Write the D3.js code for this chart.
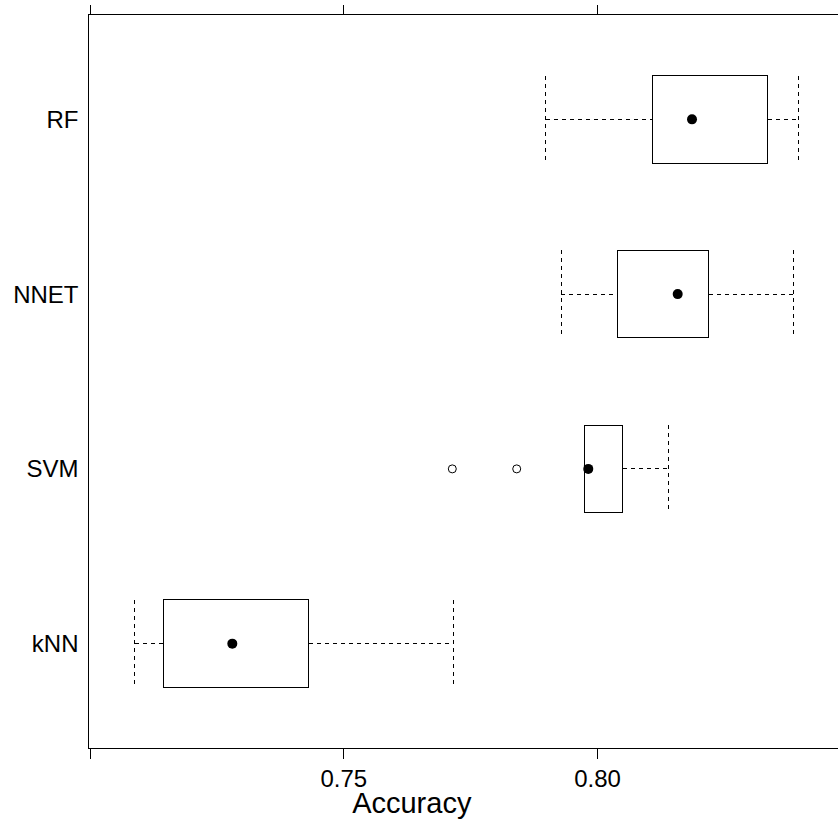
<!DOCTYPE html>
<html>
<head>
<meta charset="utf-8">
<script src="https://cdn.jsdelivr.net/npm/d3@7"></script>
<style>
  body { margin: 0; background: #fff; }
  text { font-family: "Liberation Sans", Arial, Helvetica, sans-serif; fill: #000; }
  line, rect, path { shape-rendering: crispEdges; }
</style>
</head>
<body>
<div id="chart"></div>
<script>
var w = 838,
    h = 823;

// data
var models   = ["RF", "NNET", "SVM", "kNN"];
var whiskLo  = [0.78995, 0.79297, 0.79744, 0.70891];
var boxLo    = [0.81103, 0.80406, 0.79744, 0.71454];
var medians  = [0.81872, 0.81590, 0.79828, 0.72814];
var boxHi    = [0.83369, 0.82201, 0.80506, 0.74319];
var whiskHi  = [0.83961, 0.83878, 0.81413, 0.77182];
var outliers = [[], [], [0.77149, 0.78418], []];
var xTicks   = [0.70, 0.75, 0.80, 0.85];
var xTickLabels = ["", "0.75", "0.80", ""];

var panelLeft = 88.5, panelTop = 14.5, panelBottom = 748.5;

var svg = d3.select("#chart")
            .append("svg")
            .attr("width", w)
            .attr("height", h);

var x = d3.scaleLinear()
          .domain([0.70, 0.80])
          .range([89.5, 597]);

var y = d3.scalePoint()
          .domain(models)
          .range([panelTop, panelBottom])
          .padding(0.6);

var half = y.step() * 0.25;

// panel (right side runs off the picture)
svg.append("path")
   .attr("d", "M" + (w + 5) + "," + panelTop + "H" + panelLeft + "V" + panelBottom + "H" + (w + 5))
   .attr("fill", "none")
   .attr("stroke", "#000")
   .attr("stroke-width", 1);

// ticks top and bottom
var axB = svg.append("g")
   .attr("transform", "translate(0," + panelBottom + ")")
   .call(d3.axisBottom(x).tickValues(xTicks)
           .tickFormat(function(d, i) { return xTickLabels[i]; })
           .tickSize(10).tickPadding(11));
axB.select(".domain").remove();
axB.selectAll("text").attr("font-size", "24px")
   .attr("font-family", "Liberation Sans, Arial, sans-serif");

var axT = svg.append("g")
   .attr("transform", "translate(0," + panelTop + ")")
   .call(d3.axisTop(x).tickValues(xTicks).tickFormat("").tickSize(10));
axT.select(".domain").remove();

svg.append("text")
   .attr("x", x(0.7635))
   .attr("y", 813)
   .attr("text-anchor", "middle")
   .attr("font-size", "29px")
   .text("Accuracy");

// category labels
svg.selectAll("text.cat")
   .data(models)
   .enter().append("text")
   .attr("class", "cat")
   .attr("x", 78.5)
   .attr("y", function(d) { return y(d); })
   .attr("dy", "0.35em")
   .attr("text-anchor", "end")
   .attr("font-size", "24px")
   .text(function(d) { return d; });

var g = svg.selectAll("g.bw")
           .data(models)
           .enter().append("g")
           .attr("class", "bw");

// whisker lines
g.append("line")
 .attr("x1", function(d, i) { return x(whiskLo[i]); })
 .attr("x2", function(d, i) { return x(boxLo[i]); })
 .attr("y1", function(d) { return y(d); })
 .attr("y2", function(d) { return y(d); });
g.append("line")
 .attr("x1", function(d, i) { return x(boxHi[i]); })
 .attr("x2", function(d, i) { return x(whiskHi[i]); })
 .attr("y1", function(d) { return y(d); })
 .attr("y2", function(d) { return y(d); });
// whisker caps
g.append("line")
 .attr("x1", function(d, i) { return x(whiskLo[i]); })
 .attr("x2", function(d, i) { return x(whiskLo[i]); })
 .attr("y1", function(d) { return y(d) - half; })
 .attr("y2", function(d) { return y(d) + half; });
g.append("line")
 .attr("x1", function(d, i) { return x(whiskHi[i]); })
 .attr("x2", function(d, i) { return x(whiskHi[i]); })
 .attr("y1", function(d) { return y(d) - half; })
 .attr("y2", function(d) { return y(d) + half; });
g.selectAll("line")
 .attr("stroke", "#000")
 .attr("stroke-width", 1)
 .attr("stroke-dasharray", "4,4");

// boxes
g.append("rect")
 .attr("x", function(d, i) { return x(boxLo[i]); })
 .attr("y", function(d) { return y(d) - half; })
 .attr("width", function(d, i) { return x(boxHi[i]) - x(boxLo[i]); })
 .attr("height", half * 2)
 .attr("fill", "none")
 .attr("stroke", "#000")
 .attr("stroke-width", 1);

// medians
g.append("circle")
 .attr("cx", function(d, i) { return x(medians[i]); })
 .attr("cy", function(d) { return y(d); })
 .attr("r", 5)
 .attr("fill", "#000");

// outliers
g.each(function(d, i) {
  d3.select(this).selectAll("circle.out")
    .data(outliers[i])
    .enter().append("circle")
    .attr("class", "out")
    .attr("cx", function(v) { return x(v); })
    .attr("cy", y(d))
    .attr("r", 4)
    .attr("fill", "none")
    .attr("stroke", "#000")
    .attr("stroke-width", 1);
});
</script>
</body>
</html>
